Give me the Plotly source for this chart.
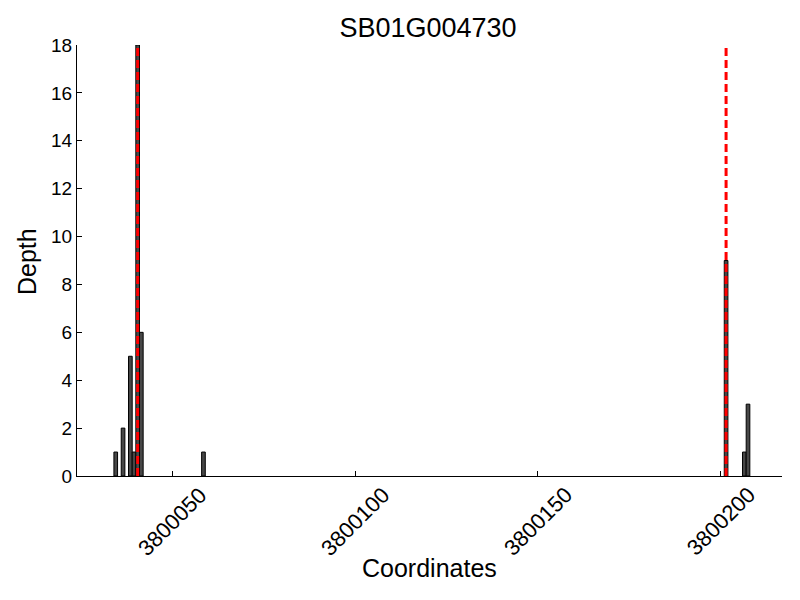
import plotly.graph_objects as go

title = "SB01G004730"
positions = [3800034, 3800036, 3800038, 3800039, 3800040, 3800041, 3800058,
             3800201, 3800206, 3800207]
depths = [1, 2, 5, 1, 18, 6, 1, 9, 1, 3]
marker_lines = [3800040.5, 3800201.5]
x_ticks = [3800050, 3800100, 3800150, 3800200]
y_ticks = [0, 2, 4, 6, 8, 10, 12, 14, 16, 18]

font = "Liberation Sans, Arial, sans-serif"
L, R, T, B = 77, 782, 45, 476
W, H = R - L, B - T

fig = go.Figure()
fig.add_trace(go.Bar(
    x=positions, y=depths, offset=0, width=[1] * len(positions),
    marker=dict(color="#474747", line=dict(color="black", width=1)),
    showlegend=False,
))
for xv in marker_lines:
    fig.add_shape(type="line", xref="x", yref="paper", x0=xv, x1=xv, y0=0, y1=1,
                  line=dict(color="red", width=3, dash="8px,4px"))

# x tick labels: rotated 45 deg, box centred on the tick (matplotlib style)
for t in x_ticks:
    fig.add_annotation(text=str(t), xref="x", yref="paper", x=t, y=0,
                       xanchor="center", yanchor="top", yshift=-3, textangle=-45,
                       showarrow=False, font=dict(size=22))

fig.add_annotation(text="Coordinates", xref="paper", yref="paper",
                   x=(429 - L) / W, y=(B - 568) / H, xanchor="center", yanchor="middle",
                   showarrow=False, font=dict(size=25))
fig.add_annotation(text="Depth", xref="paper", yref="paper", textangle=-90,
                   x=(27 - L) / W, y=(B - 261) / H, xanchor="center", yanchor="middle",
                   showarrow=False, font=dict(size=25))

fig.update_layout(
    width=800, height=600,
    margin=dict(l=L, r=800 - R, t=T, b=600 - B, autoexpand=False),
    plot_bgcolor="white", paper_bgcolor="white",
    font=dict(family=font, size=19, color="black"),
    title=dict(text=title, xref="paper", x=(428 - L) / W, xanchor="center",
               yref="container", y=1 - 28 / 600, yanchor="middle",
               font=dict(size=27, family=font), automargin=False),
    xaxis=dict(range=[3800023.9, 3800216.8], tickvals=x_ticks, showticklabels=False,
               ticks="inside", ticklen=5, tickcolor="black",
               showline=True, linecolor="black", linewidth=1.2,
               showgrid=False, zeroline=False, mirror=False, automargin=False),
    yaxis=dict(range=[0, 18], tickvals=y_ticks, ticks="inside", ticklen=5,
               tickcolor="black", showline=True, linecolor="black", linewidth=1.2,
               showgrid=False, zeroline=False, automargin=False),
)

fig.write_html("out.html", config={"displayModeBar": False},
               post_script="document.body.style.margin='0';")
